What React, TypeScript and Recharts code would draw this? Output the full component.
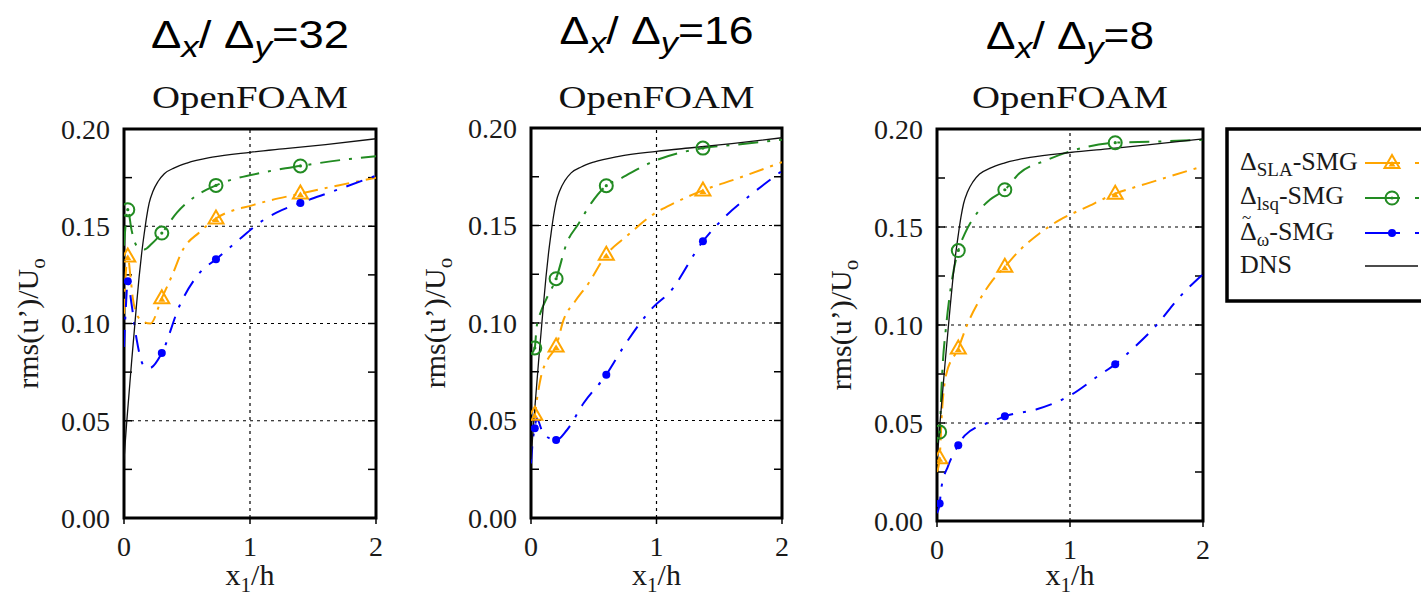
import React from 'react';
import { LineChart, Line, XAxis, YAxis, ReferenceLine, ReferenceArea } from 'recharts';

type Pt = [number, number];

// axis ticks
const xTicks = [0, 1, 2];
const yTicks = [0, 0.05, 0.1, 0.15, 0.2];
const minorY = [0.025, 0.05, 0.075, 0.1, 0.125, 0.15, 0.175];
const gridY = [0.05, 0.1, 0.15];
const gridX = [1];

// DNS reference (same in every panel)
const dns: Pt[] = [
  [0, 0.03], [0.02, 0.048], [0.04, 0.064], [0.06, 0.08], [0.08, 0.095], [0.1, 0.11],
  [0.12, 0.124], [0.14, 0.136], [0.16, 0.146], [0.18, 0.155], [0.2, 0.162], [0.23, 0.168],
  [0.27, 0.173], [0.32, 0.177], [0.4, 0.18], [0.5, 0.1825], [0.7, 0.1855], [1.0, 0.188],
  [1.3, 0.19], [1.6, 0.192], [2.0, 0.195],
];

// dx/dy = 32
const marks32 = [0.03, 0.3, 0.73, 1.4];
const sla32: Pt[] = [
  [0, 0.105], [0.01, 0.121], [0.03, 0.1345], [0.05, 0.125], [0.07, 0.113], [0.1, 0.105],
  [0.15, 0.101], [0.21, 0.1], [0.3, 0.113], [0.39, 0.126], [0.46, 0.137], [0.6, 0.147],
  [0.73, 0.154], [1.03, 0.161], [1.4, 0.1668], [1.7, 0.171], [2.0, 0.175],
];
const lsq32: Pt[] = [
  [0, 0.14], [0.015, 0.152], [0.03, 0.1585], [0.06, 0.148], [0.1, 0.14], [0.16, 0.138],
  [0.22, 0.141], [0.3, 0.1465], [0.42, 0.157], [0.58, 0.166], [0.73, 0.171], [1.13, 0.178],
  [1.4, 0.181], [1.79, 0.1846], [2.0, 0.186],
];
const om32: Pt[] = [
  [0, 0.088], [0.012, 0.105], [0.03, 0.1217], [0.06, 0.11], [0.1, 0.092], [0.15, 0.079],
  [0.2, 0.077], [0.3, 0.0848], [0.44, 0.109], [0.6, 0.126], [0.73, 0.133], [0.91, 0.143],
  [1.08, 0.152], [1.21, 0.157], [1.4, 0.162], [1.66, 0.168], [2.0, 0.176],
];

// dx/dy = 16
const marks16 = [0.03, 0.2, 0.6, 1.37];
const sla16: Pt[] = [
  [0, 0.05], [0.03, 0.053], [0.05, 0.062], [0.08, 0.0726], [0.13, 0.081], [0.2, 0.088],
  [0.26, 0.1017], [0.35, 0.111], [0.46, 0.1205], [0.6, 0.135], [0.76, 0.1444], [0.98, 0.156],
  [1.14, 0.1615], [1.37, 0.168], [1.64, 0.174], [2.0, 0.1825],
];
const lsq16: Pt[] = [
  [0, 0.084], [0.03, 0.0872], [0.045, 0.098], [0.08, 0.106], [0.12, 0.112], [0.2, 0.1227],
  [0.285, 0.141], [0.38, 0.151], [0.48, 0.1615], [0.6, 0.1704], [0.71, 0.174], [0.98, 0.183],
  [1.37, 0.1897], [1.64, 0.1915], [2.0, 0.194],
];
const om16: Pt[] = [
  [0, 0.028], [0.015, 0.04], [0.03, 0.046], [0.045, 0.051], [0.1, 0.043], [0.2, 0.04],
  [0.285, 0.045], [0.42, 0.059], [0.6, 0.0735], [0.74, 0.088], [0.98, 0.1085], [1.1, 0.1154],
  [1.37, 0.1419], [1.55, 0.1547], [1.77, 0.1667], [2.0, 0.178],
];

// dx/dy = 8
const marks8 = [0.02, 0.16, 0.51, 1.34];
const sla8: Pt[] = [
  [0, 0.025], [0.02, 0.032], [0.035, 0.053], [0.07, 0.075], [0.16, 0.088], [0.22, 0.099],
  [0.32, 0.1127], [0.42, 0.123], [0.51, 0.1297], [0.62, 0.138], [0.77, 0.1467], [0.92, 0.1535],
  [1.12, 0.16], [1.34, 0.167], [1.57, 0.172], [2.0, 0.181],
];
const lsq8: Pt[] = [
  [0, 0.04], [0.02, 0.0454], [0.033, 0.0667], [0.045, 0.082], [0.065, 0.097], [0.108, 0.121],
  [0.16, 0.138], [0.21, 0.1467], [0.3, 0.157], [0.4, 0.164], [0.51, 0.169], [0.62, 0.1774],
  [0.82, 0.184], [1.02, 0.189], [1.34, 0.193], [1.62, 0.1935], [2.0, 0.1945],
];
const om8: Pt[] = [
  [0, 0.004], [0.02, 0.0089], [0.033, 0.017], [0.083, 0.028], [0.16, 0.0386], [0.21, 0.0437],
  [0.42, 0.051], [0.51, 0.0534], [0.75, 0.057], [1.0, 0.064], [1.22, 0.0744], [1.34, 0.08],
  [1.5, 0.0897], [1.65, 0.0999], [1.82, 0.114], [2.0, 0.126],
];

const ORANGE = '#FFA500';
const GREEN = '#228B22';
const BLUE = '#0000FF';
const SERIF = '"Liberation Serif", "Times New Roman", serif';
const TITLE_FONT = '"Liberation Sans", Arial, sans-serif';

const panels = [
  { ratio: '32', titleW: 198, titleY: 48, sla: sla32, lsq: lsq32, om: om32, marks: marks32, left: 124, top: 129, w: 252, h: 389 },
  { ratio: '16', titleW: 194, titleY: 44, sla: sla16, lsq: lsq16, om: om16, marks: marks16, left: 531, top: 128, w: 251, h: 390 },
  { ratio: '8', titleW: 168, titleY: 49, sla: sla8, lsq: lsq8, om: om8, marks: marks8, left: 937, top: 129, w: 266, h: 392 },
];

const toRows = (pts: Pt[]) => pts.map(([x, y]) => ({ x, y }));

type Kind = 'tri' | 'circ' | 'dot';

const Marker = ({ kind, cx, cy, color }: { kind: Kind; cx: number; cy: number; color: string }) => {
  if (kind === 'tri') {
    return (
      <g>
        <polygon points={`${cx},${cy - 8} ${cx - 7.5},${cy + 5} ${cx + 7.5},${cy + 5}`} fill="none" stroke={color} strokeWidth={2} />
        <polygon points={`${cx},${cy - 2} ${cx - 3.5},${cy + 3.5} ${cx + 3.5},${cy + 3.5}`} fill={color} />
      </g>
    );
  }
  if (kind === 'circ') {
    return (
      <g>
        <circle cx={cx} cy={cy} r={6.5} fill="none" stroke={color} strokeWidth={2} />
        <circle cx={cx} cy={cy} r={1.6} fill={color} />
      </g>
    );
  }
  return <circle cx={cx} cy={cy} r={4} fill={color} />;
};

const makeDot = (marks: number[], kind: Kind, color: string) => (props: any) => {
  const { cx, cy, payload, index } = props;
  const k = `m${index}`;
  if (cx == null || cy == null || !marks.includes(payload.x)) return <g key={k} />;
  return <g key={k}><Marker kind={kind} cx={cx} cy={cy} color={color} /></g>;
};

const Panel = ({ p }: { p: (typeof panels)[number] }) => {
  const yw = 75, mt = 25, mr = 15, xh = 45;
  const W = yw + p.w + mr;
  const H = mt + p.h + xh;
  const seg = 16 / p.w; // ~8px minor tick
  const tickStyle = { fontFamily: SERIF, fontSize: 28, fill: '#1a1a1a' };
  return (
    <div style={{ position: 'absolute', left: p.left - yw, top: p.top - mt }}>
      <LineChart width={W} height={H} margin={{ top: mt, right: mr, left: 0, bottom: 0 }}>
        <XAxis
          type="number" dataKey="x" domain={[0, 2]} ticks={xTicks} interval={0} allowDataOverflow
          height={xh} axisLine={false} tickLine={{ stroke: '#000', strokeWidth: 1.5 }} tickSize={6} tickMargin={12}
          tick={tickStyle}
        />
        <YAxis
          type="number" domain={[0, 0.2]} ticks={yTicks} interval={0} allowDataOverflow width={yw}
          axisLine={false} tickLine={false} tickSize={0} tickMargin={14}
          tickFormatter={(v: number) => v.toFixed(2)} tick={tickStyle}
        />
        {gridY.map((v) => (
          <ReferenceLine key={`gy${v}`} y={v} stroke="#000" strokeWidth={1.2} strokeDasharray="3 4" />
        ))}
        {gridX.map((v) => (
          <ReferenceLine key={`gx${v}`} x={v} stroke="#000" strokeWidth={1.2} strokeDasharray="3 4" />
        ))}
        {minorY.map((v) => (
          <ReferenceLine key={`tl${v}`} segment={[{ x: 0, y: v }, { x: seg, y: v }]} stroke="#000" strokeWidth={1.5} />
        ))}
        {minorY.map((v) => (
          <ReferenceLine key={`tr${v}`} segment={[{ x: 2 - seg, y: v }, { x: 2, y: v }]} stroke="#000" strokeWidth={1.5} />
        ))}
        <Line data={toRows(p.sla)} dataKey="y" type="monotoneX" stroke={ORANGE} strokeWidth={2}
          strokeDasharray="15 7 3 7" dot={makeDot(p.marks, 'tri', ORANGE)} activeDot={false} isAnimationActive={false} />
        <Line data={toRows(p.lsq)} dataKey="y" type="monotoneX" stroke={GREEN} strokeWidth={2}
          strokeDasharray="20 9 3 9" dot={makeDot(p.marks, 'circ', GREEN)} activeDot={false} isAnimationActive={false} />
        <Line data={toRows(p.om)} dataKey="y" type="monotoneX" stroke={BLUE} strokeWidth={2}
          strokeDasharray="17 10 3 10" dot={makeDot(p.marks, 'dot', BLUE)} activeDot={false} isAnimationActive={false} />
        <Line data={toRows(dns)} dataKey="y" type="monotoneX" stroke="#111" strokeWidth={1.3}
          dot={false} activeDot={false} isAnimationActive={false} />
        <ReferenceArea x1={0} x2={2} y1={0} y2={0.2} fill="none" fillOpacity={0} stroke="#000" strokeWidth={3} />
      </LineChart>
    </div>
  );
};

const LegendSample = ({ y, color, kind }: { y: number; color: string; kind: Kind | null }) => (
  <g>
    <line x1={1365} x2={kind ? 1400 : 1418} y1={y} y2={y} stroke={color} strokeWidth={kind ? 2 : 1.5} />
    {kind && <Marker kind={kind} cx={1392} cy={y} color={color} />}
    {kind && <line x1={1415} x2={1419} y1={y} y2={y} stroke={color} strokeWidth={2} />}
  </g>
);

export default function App() {
  return (
    <div style={{ position: 'absolute', left: 0, top: 0, width: 1421, height: 599, background: '#fff', overflow: 'hidden' }}>
      {panels.map((p) => (
        <Panel key={p.ratio} p={p} />
      ))}
      <svg width={1421} height={599} style={{ position: 'absolute', left: 0, top: 0, pointerEvents: 'none' }}>
        {panels.map((p) => {
          const cx = p.left + p.w / 2;
          const cy = p.top + p.h / 2;
          return (
            <g key={`t${p.ratio}`}>
              <text x={cx} y={p.titleY} textAnchor="middle" fontFamily={TITLE_FONT} fontSize={39} fill="#000"
                textLength={p.titleW} lengthAdjust="spacingAndGlyphs">
                Δ<tspan fontStyle="italic" fontSize={30} dy={9}>x</tspan>
                <tspan dy={-9}>/ Δ</tspan>
                <tspan fontStyle="italic" fontSize={30} dy={9}>y</tspan>
                <tspan dy={-9}>={p.ratio}</tspan>
              </text>
              <text x={cx} y={108} textAnchor="middle" fontFamily={SERIF} fontSize={32} fill="#111"
                textLength={196} lengthAdjust="spacingAndGlyphs">
                OpenFOAM
              </text>
              <text transform={`translate(${p.left - 86},${cy}) rotate(-90)`} textAnchor="middle"
                fontFamily={SERIF} fontSize={30} fill="#1a1a1a">
                rms(u’)/U<tspan fontSize={21} dy={7}>o</tspan>
              </text>
              <text x={cx} y={585} textAnchor="middle" fontFamily={SERIF} fontSize={30} fill="#1a1a1a">
                x<tspan fontSize={21} dy={7}>1</tspan>
                <tspan dy={-7}>/h</tspan>
              </text>
            </g>
          );
        })}
        <rect x={1227} y={129} width={210} height={172} fill="#fff" stroke="#000" strokeWidth={3.5} />
        <g fontFamily={SERIF} fontSize={26} fill="#1a1a1a">
          <text x={1240} y={170}>
            Δ<tspan fontSize={19} dy={6}>SLA</tspan>
            <tspan dy={-6}>-SMG</tspan>
          </text>
          <text x={1240} y={204}>
            Δ<tspan fontSize={19} dy={6}>lsq</tspan>
            <tspan dy={-6}>-SMG</tspan>
          </text>
          <text x={1242} y={223} fontSize={17}>~</text>
          <text x={1240} y={240}>
            Δ<tspan fontSize={19} dy={6}>ω</tspan>
            <tspan dy={-6}>-SMG</tspan>
          </text>
          <text x={1240} y={273}>DNS</text>
        </g>
        <LegendSample y={163} color={ORANGE} kind="tri" />
        <LegendSample y={198} color={GREEN} kind="circ" />
        <LegendSample y={233} color={BLUE} kind="dot" />
        <LegendSample y={266} color="#111" kind={null} />
      </svg>
    </div>
  );
}
